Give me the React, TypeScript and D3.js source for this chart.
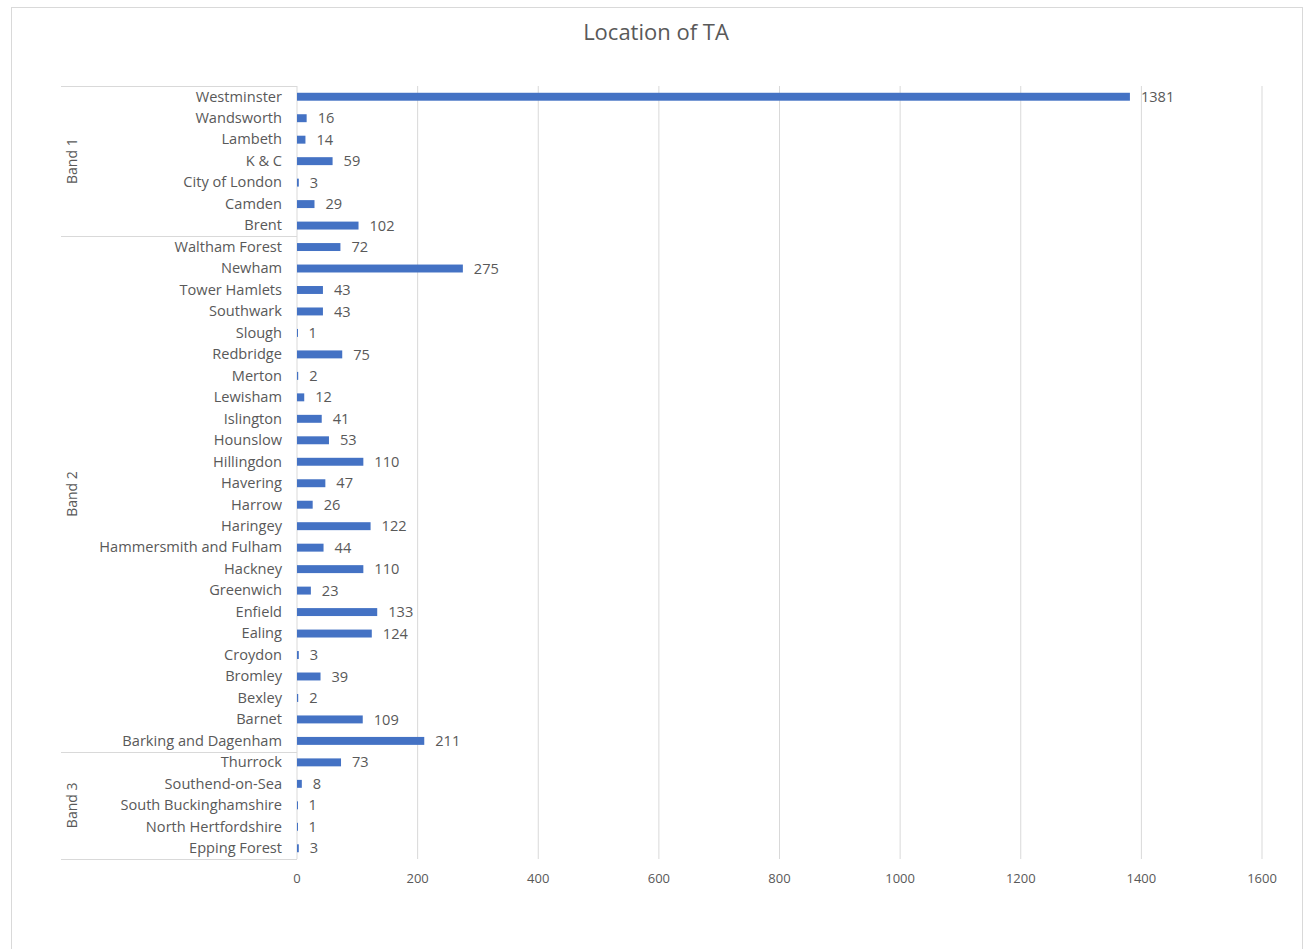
import React from "react";
import * as d3 from "d3";

const band1Names = ["Westminster", "Wandsworth", "Lambeth", "K & C", "City of London", "Camden", "Brent"];
const band1Values = [1381, 16, 14, 59, 3, 29, 102];
const band2Names = [
  "Waltham Forest", "Newham", "Tower Hamlets", "Southwark", "Slough", "Redbridge", "Merton", "Lewisham",
  "Islington", "Hounslow", "Hillingdon", "Havering", "Harrow", "Haringey", "Hammersmith and Fulham",
  "Hackney", "Greenwich", "Enfield", "Ealing", "Croydon", "Bromley", "Bexley", "Barnet", "Barking and Dagenham",
];
const band2Values = [72, 275, 43, 43, 1, 75, 2, 12, 41, 53, 110, 47, 26, 122, 44, 110, 23, 133, 124, 3, 39, 2, 109, 211];
const band3Names = ["Thurrock", "Southend-on-Sea", "South Buckinghamshire", "North Hertfordshire", "Epping Forest"];
const band3Values = [73, 8, 1, 1, 3];
const bandLabels = ["Band 1", "Band 2", "Band 3"];
const xTicks = [0, 200, 400, 600, 800, 1000, 1200, 1400, 1600];
const title = "Location of TA";

const groups = [
  { label: bandLabels[0], names: band1Names, values: band1Values },
  { label: bandLabels[1], names: band2Names, values: band2Values },
  { label: bandLabels[2], names: band3Names, values: band3Values },
];

type Row = { key: string; name: string; value: number; group: number };
const rows: Row[] = [];
groups.forEach((g, gi) => g.names.forEach((n, i) => rows.push({ key: `${gi}-${i}`, name: n, value: g.values[i], group: gi })));

const W = 1306;
const H = 949;
const plotLeft = 297;
const plotRight = 1262;
const plotTop = 86;
const plotBottom = 859;
const axisLeft = 61;
const font = "'Open Sans', 'Noto Sans', sans-serif";
const textColor = "#595959";
const gridColor = "#d9d9d9";
const barColor = "#4472C4";

export default function App() {
  const x = d3.scaleLinear().domain([0, 1600]).range([plotLeft, plotRight]);
  const y = d3.scaleBand<string>().domain(rows.map((r) => r.key)).range([plotTop, plotBottom]).paddingInner(0).paddingOuter(0);
  const bw = y.bandwidth();
  const barH = bw * 0.37;

  let idx = 0;
  const bandInfo = groups.map((g) => {
    const start = idx;
    idx += g.names.length;
    const y0 = y(rows[start].key)!;
    const y1 = y(rows[idx - 1].key)! + bw;
    return { label: g.label, y0, y1 };
  });

  return (
    <svg width={W} height={H} style={{ position: "absolute", left: 0, top: 0, background: "#fff" }} fontFamily={font}>
      <rect x={11.5} y={7.5} width={1291} height={960} fill="#fff" stroke={gridColor} strokeWidth={1} />
      <text x={656} y={40} textAnchor="middle" fontSize={22} fill={textColor}>{title}</text>

      {xTicks.slice(1).map((t) => (
        <line key={t} x1={x(t)} x2={x(t)} y1={plotTop} y2={plotBottom} stroke={gridColor} strokeWidth={1} />
      ))}

      {xTicks.map((t) => (
        <text key={"t" + t} x={x(t)} y={883} textAnchor="middle" fontSize={13} fill={textColor}>{t}</text>
      ))}

      <line x1={plotLeft} x2={plotLeft} y1={plotTop} y2={plotBottom} stroke={gridColor} strokeWidth={1} />
      {[bandInfo[0].y0, ...bandInfo.map((b) => b.y1)].map((yy, i) => (
        <line key={"b" + i} x1={axisLeft} x2={plotLeft} y1={Math.round(yy) + 0.5} y2={Math.round(yy) + 0.5} stroke={gridColor} strokeWidth={1} />
      ))}
      {bandInfo.map((b) => (
        <text key={b.label} transform={`translate(77,${(b.y0 + b.y1) / 2}) rotate(-90)`} textAnchor="middle" fontSize={14} fill={textColor}>
          {b.label}
        </text>
      ))}

      {rows.map((r) => {
        const cy = y(r.key)! + bw / 2;
        return (
          <g key={r.key}>
            <text x={282} y={cy} dy="0.33em" textAnchor="end" fontSize={14.6} fill={textColor}>{r.name}</text>
            <rect x={x(0)} y={cy - barH / 2} width={Math.max(1, x(r.value) - x(0))} height={barH} fill={barColor} />
            <text x={x(r.value) + 11} y={cy} dy="0.35em" fontSize={14.6} fill={textColor}>{r.value}</text>
          </g>
        );
      })}
    </svg>
  );
}
